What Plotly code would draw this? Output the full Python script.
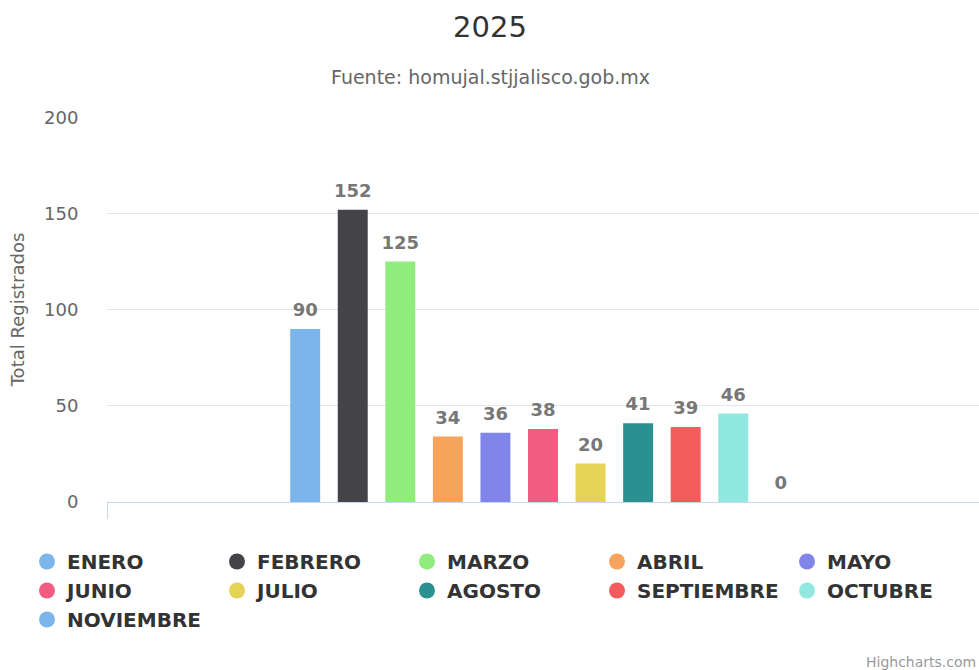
import plotly.graph_objects as go

months = ["ENERO", "FEBRERO", "MARZO", "ABRIL", "MAYO", "JUNIO", "JULIO",
          "AGOSTO", "SEPTIEMBRE", "OCTUBRE", "NOVIEMBRE"]
values = [90, 152, 125, 34, 36, 38, 20, 41, 39, 46, 0]
colors = ["#7cb5ec", "#434348", "#90ed7d", "#f7a35c", "#8085e9", "#f15c80",
          "#e4d354", "#2b908f", "#f45b5b", "#91e8e1", "#7cb5ec"]
category = ["2025"]

FW, FH = 979, 670
L, T, R, B = 107, 117, 0, 168
PW, PH = FW - L - R, FH - T - B


def px_x(page_x):
    return (page_x - L) / PW


def px_y(page_y):
    return (FH - B - page_y) / PH


fig = go.Figure()
for i, (m, v, c) in enumerate(zip(months, values, colors)):
    fig.add_trace(go.Bar(
        x=category, y=[v], name=m, marker_color=c, marker_line_width=0,
        offsetgroup=str(i), showlegend=False, hoverinfo="y+name"))
for i, (m, v) in enumerate(zip(months, values)):
    fig.add_trace(go.Scatter(
        x=category, y=[v], name=m, mode="markers+text", offsetgroup=str(i),
        marker=dict(size=12, color="rgba(0,0,0,0)"),
        text=[str(v)], textposition="top center", cliponaxis=False,
        textfont=dict(family="DejaVu Sans", size=18, color="#777777", weight="bold"),
        showlegend=False, hoverinfo="skip"))
for m, c in zip(months, colors):
    fig.add_trace(go.Scatter(
        x=[None], y=[None], mode="markers", name=m,
        marker=dict(symbol="circle", size=18, color=c), showlegend=True))

fig.update_layout(
    width=FW, height=FH,
    paper_bgcolor="white", plot_bgcolor="white",
    margin=dict(l=L, r=R, t=T, b=B, autoexpand=False),
    barmode="group", bargap=0.4, bargroupgap=0.37,
    scattermode="group", scattergap=0.4,
    title=dict(text="2025", x=px_x(490), xref="paper", xanchor="center",
               y=1 - 27 / FH, yanchor="middle",
               font=dict(family="DejaVu Sans", size=29, color="#333333")),
    annotations=[
        dict(text="Fuente: homujal.stjjalisco.gob.mx", xref="paper", yref="paper",
             x=px_x(490), xanchor="center", y=px_y(77), yanchor="middle",
             showarrow=False, font=dict(family="DejaVu Sans", size=19, color="#666666")),
        dict(text="Highcharts.com", xref="paper", yref="paper", x=px_x(978), xanchor="right",
             y=px_y(662), yanchor="middle", showarrow=False,
             font=dict(family="DejaVu Sans", size=14, color="#999999")),
    ],
    legend=dict(orientation="h", xref="paper", yref="paper",
                x=px_x(27), xanchor="left", y=px_y(542), yanchor="top",
                entrywidth=145, entrywidthmode="pixels",
                font=dict(family="DejaVu Sans", size=20, color="#333333", weight="bold"),
                itemclick=False, itemdoubleclick=False),
    showlegend=True,
)
fig.update_xaxes(showticklabels=False, showgrid=False, showline=True,
                 linecolor="#ccd6eb", linewidth=1, ticks="outside", tickson="boundaries",
                 ticklen=16, tickcolor="#ccd6eb", fixedrange=True)
fig.update_yaxes(range=[0, 200.2], tickvals=[0, 50, 100, 150, 200], showgrid=True,
                 gridcolor="#e6e6e6", zeroline=False, ticks="outside", ticklen=24,
                 tickcolor="rgba(0,0,0,0)",
                 tickfont=dict(family="DejaVu Sans", size=18, color="#666666"),
                 title=dict(text="Total Registrados", standoff=14,
                            font=dict(family="DejaVu Sans", size=18, color="#666666")),
                 fixedrange=True)

fig.write_html("out.html",
               config={"displayModeBar": False},
               post_script="document.body.style.margin='0';"
                           "document.body.style.overflow='hidden';")
